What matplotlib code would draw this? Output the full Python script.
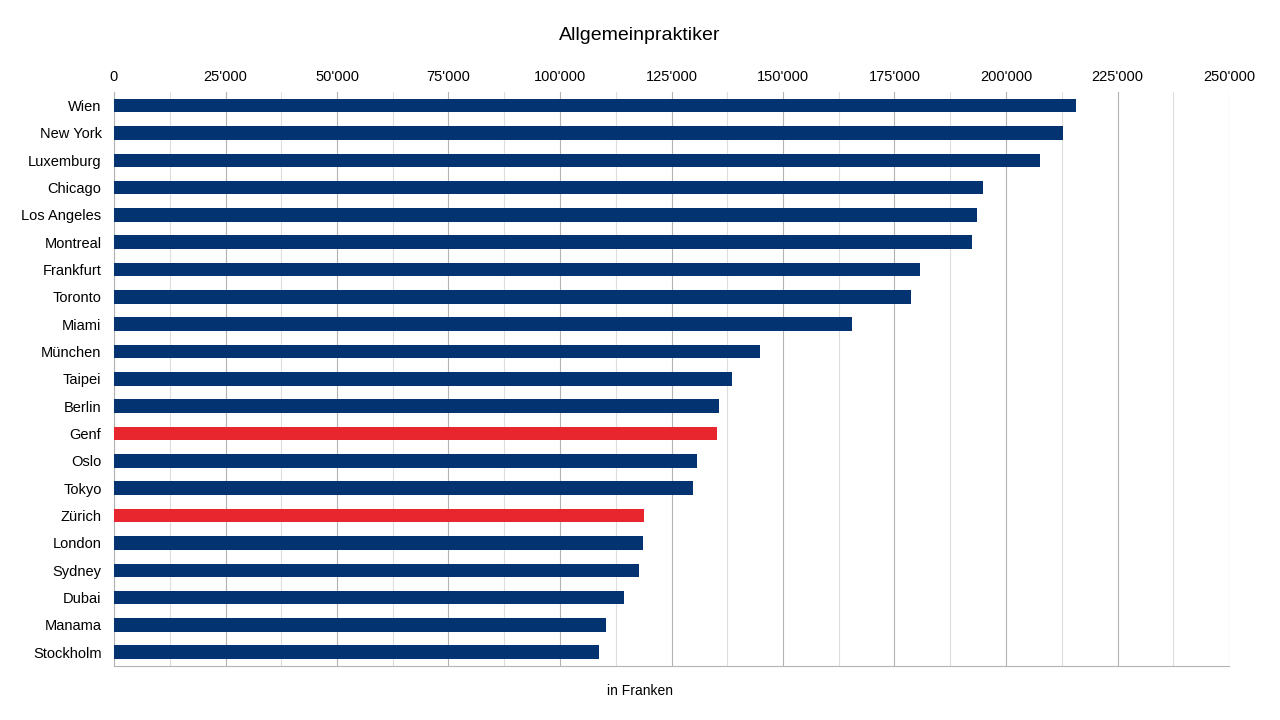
import matplotlib
matplotlib.use("Agg")
import matplotlib.pyplot as plt
from matplotlib.ticker import FuncFormatter, MultipleLocator

cities = ["Wien","New York","Luxemburg","Chicago","Los Angeles","Montreal","Frankfurt","Toronto","Miami","München","Taipei","Berlin","Genf","Oslo","Tokyo","Zürich","London","Sydney","Dubai","Manama","Stockholm"]
values = [215700,212800,207600,194800,193500,192400,180700,178700,165500,144800,138600,135700,135200,130700,129800,118800,118600,117700,114300,110300,108700]
highlight = ["Genf","Zürich"]

fig = plt.figure(figsize=(12.8,7.2), dpi=100)
ax = fig.add_axes([114/1280, 1-666/720, 1115/1280, 574/720])
colors = ["#e8262e" if c in highlight else "#043371" for c in cities]
y = list(range(len(cities)))
ax.barh(y, values, height=0.5, color=colors, zorder=3)
ax.set_ylim(len(cities)-0.5, -0.5)
ax.set_yticks(y)
ax.set_yticklabels(cities, fontsize=10.5, fontfamily="Liberation Sans")
ax.set_xlim(0, 250000)
ax.xaxis.set_major_locator(MultipleLocator(25000))
ax.xaxis.set_minor_locator(MultipleLocator(12500))
ax.xaxis.set_major_formatter(FuncFormatter(lambda v,p: f"{int(v):,}".replace(",", "'")))
ax.xaxis.tick_top()
ax.tick_params(axis="x", labelsize=10.5, length=0, which="both", pad=6)
ax.tick_params(axis="y", length=0, pad=9)
for l in ax.get_xticklabels(): l.set_fontfamily("Liberation Sans")
ax.grid(axis="x", which="major", color="#b3b3b3", lw=0.8, zorder=0)
ax.grid(axis="x", which="minor", color="#dddddd", lw=0.8, zorder=0)
for s in ["top","right"]: ax.spines[s].set_visible(False)
ax.spines["left"].set_color("#b3b3b3")
ax.spines["bottom"].set_color("#b3b3b3")
fig.text(640/1280, 1-36/720, "Allgemeinpraktiker", ha="center", va="center", fontsize=14, fontfamily="Liberation Sans")
fig.text(640/1280, 1-691/720, "in Franken", ha="center", va="center", fontsize=10, fontfamily="Liberation Sans")
fig.savefig("out.png", dpi=100)
